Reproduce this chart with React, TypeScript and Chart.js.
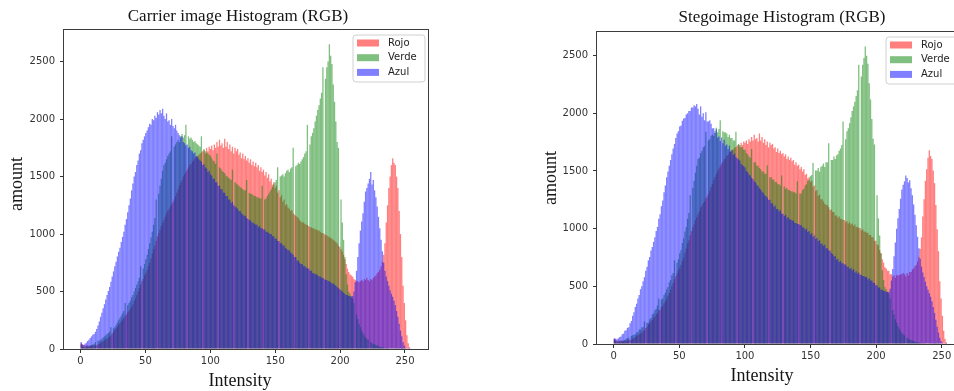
import React, { useEffect, useRef } from "react";
import { Chart, registerables } from "chart.js";

Chart.register(...registerables);

// ---------------- data ----------------
const seriesNames = ["Rojo", "Verde", "Azul"];
const xTickValues = [0, 50, 100, 150, 200, 250];
const yTickValues = [0, 500, 1000, 1500, 2000, 2500];

// Carrier image histogram (bins 0..255)
const carrierRed = [
  50, 40, 35, 30, 30, 30, 28, 28, 30, 30,
  30, 35, 30, 40, 45, 50, 60, 70, 75, 85,
  90, 100, 110, 120, 135, 150, 165, 180, 195, 210,
  225, 240, 255, 270, 290, 300, 320, 330, 350, 370,
  390, 420, 440, 470, 500, 530, 560, 590, 610, 640,
  660, 690, 720, 750, 790, 830, 870, 900, 940, 980,
  1010, 1040, 1070, 1100, 1120, 1150, 1180, 1200, 1220, 1240,
  1260, 1280, 1300, 1330, 1360, 1390, 1420, 1450, 1470, 1500,
  1520, 1540, 1560, 1580, 1600, 1610, 1630, 1640, 1660, 1670,
  1680, 1690, 1700, 1710, 1720, 1730, 1700, 1750, 1720, 1760,
  1740, 1770, 1730, 1780, 1750, 1800, 1760, 1820, 1770, 1790,
  1750, 1830, 1760, 1800, 1740, 1780, 1720, 1760, 1700, 1750,
  1720, 1740, 1690, 1710, 1660, 1700, 1650, 1680, 1640, 1660,
  1620, 1650, 1600, 1630, 1590, 1620, 1580, 1600, 1550, 1580,
  1540, 1560, 1510, 1540, 1490, 1520, 1460, 1480, 1430, 1450,
  1400, 1420, 1360, 1380, 1320, 1340, 1280, 1300, 1250, 1260,
  1230, 1220, 1200, 1210, 1180, 1170, 1160, 1150, 1140, 1120,
  1110, 1100, 1100, 1090, 1080, 1080, 1070, 1060, 1060, 1050,
  1050, 1040, 1040, 1030, 1030, 1020, 1010, 1010, 1000, 990,
  990, 980, 970, 970, 960, 950, 940, 930, 920, 900,
  890, 870, 850, 820, 780, 740, 700, 670, 650, 640,
  630, 610, 600, 590, 590, 580, 590, 600, 590, 610,
  600, 620, 600, 590, 610, 600, 620, 630, 640, 660,
  670, 690, 720, 760, 820, 920, 1100, 1250, 1400, 1500,
  1600, 1660, 1620, 1600, 1500, 1400, 1200, 1000, 800, 550,
  400, 250, 120, 50, 15, 0,
];

const carrierGreen = [
  40, 20, 15, 15, 20, 20, 25, 30, 35, 40,
  45, 60, 0, 75, 70, 80, 90, 100, 110, 120,
  130, 140, 150, 190, 0, 180, 190, 210, 230, 250,
  270, 290, 310, 330, 400, 0, 380, 400, 420, 450,
  470, 500, 530, 560, 590, 620, 720, 0, 700, 740,
  780, 820, 870, 920, 970, 1020, 1080, 1140, 1300, 0,
  1350, 1420, 1480, 1550, 1600, 1620, 1650, 1680, 1700, 1720,
  1850, 0, 1760, 1780, 1800, 1820, 1800, 1850, 1870, 1840,
  1860, 1950, 0, 1850, 1830, 1840, 1820, 1800, 1810, 1790,
  1780, 1770, 1760, 1850, 0, 1740, 1720, 1710, 1700, 1690,
  1680, 1660, 1640, 1630, 1610, 1700, 0, 1580, 1570, 1550,
  1540, 1530, 1510, 1500, 1490, 1480, 1470, 1560, 0, 1450,
  1440, 1430, 1420, 1410, 1400, 1390, 1380, 1380, 1470, 0,
  1360, 1350, 1350, 1340, 1330, 1330, 1320, 1320, 1310, 1310,
  1420, 0, 1300, 1310, 1330, 1350, 1370, 1390, 1410, 1430,
  1450, 1470, 1580, 0, 1500, 1510, 1520, 1500, 1530, 1550,
  1560, 1540, 1570, 1580, 1750, 0, 1590, 1600, 1620, 1610,
  1630, 1650, 1670, 1700, 1720, 1950, 0, 1780, 1850, 1880,
  1920, 1980, 2030, 2080, 2120, 2180, 2230, 2450, 0, 2350,
  2450, 2500, 2650, 2550, 2480, 2300, 2150, 1980, 1800, 1750,
  0, 1300, 1100, 950, 800, 650, 560, 500, 480, 460,
  440, 400, 0, 300, 260, 220, 190, 160, 140, 120,
  100, 90, 80, 0, 60, 50, 45, 40, 35, 30,
  25, 20, 18, 15, 12, 0, 10, 8, 6, 5,
  5, 4, 4, 3, 3, 2, 2, 0, 1, 1,
  0, 0, 0, 0, 0, 0,
];

const carrierBlue = [
  60, 40, 35, 45, 55, 70, 80, 95, 110, 125,
  130, 150, 175, 205, 240, 280, 315, 355, 390, 430,
  470, 505, 540, 585, 630, 675, 720, 760, 805, 845,
  880, 930, 975, 1020, 1080, 1130, 1190, 1250, 1310, 1380,
  1440, 1500, 1540, 1600, 1640, 1700, 1730, 1790, 1820, 1850,
  1880, 1900, 1930, 1960, 1950, 2000, 1990, 2030, 2010, 2060,
  2040, 2080, 2050, 2090, 2030, 2000, 2050, 1980, 1990, 1950,
  2000, 1940, 1920, 1950, 1900, 1880, 1860, 1840, 1850, 1800,
  1790, 1770, 1780, 1750, 1760, 1730, 1720, 1700, 1710, 1680,
  1670, 1650, 1640, 1630, 1600, 1610, 1580, 1570, 1540, 1550,
  1520, 1510, 1480, 1480, 1450, 1450, 1420, 1420, 1390, 1390,
  1360, 1360, 1330, 1330, 1300, 1300, 1270, 1280, 1250, 1240,
  1230, 1220, 1200, 1200, 1180, 1170, 1160, 1160, 1140, 1130,
  1120, 1120, 1100, 1100, 1090, 1080, 1080, 1060, 1070, 1050,
  1050, 1040, 1040, 1020, 1020, 1010, 1000, 1000, 980, 980,
  960, 960, 940, 940, 920, 920, 900, 900, 880, 870,
  860, 860, 840, 830, 820, 800, 800, 770, 770, 750,
  740, 740, 720, 720, 710, 700, 700, 680, 680, 660,
  660, 650, 650, 640, 630, 630, 620, 620, 610, 600,
  600, 590, 590, 580, 570, 570, 560, 550, 540, 530,
  520, 510, 500, 490, 480, 470, 470, 460, 460, 450,
  460, 500, 580, 680, 800, 920, 1030, 1110, 1180, 1280,
  1370, 1400, 1440, 1480, 1540, 1430, 1470, 1380, 1320, 1240,
  1150, 1050, 950, 850, 750, 680, 630, 590, 550, 510,
  480, 455, 420, 380, 330, 280, 220, 160, 110, 60,
  30, 10, 5, 2, 1, 0,
];

// Stego image histogram (bins 0..255)
const stegoRed = [
  45, 40, 30, 30, 28, 30, 30, 25, 30, 32,
  28, 35, 32, 38, 45, 52, 58, 70, 78, 82,
  92, 98, 112, 118, 138, 148, 168, 178, 198, 208,
  228, 238, 258, 268, 292, 298, 322, 328, 352, 368,
  392, 418, 442, 468, 502, 528, 562, 588, 612, 638,
  662, 688, 722, 748, 792, 828, 872, 898, 942, 978,
  1012, 1038, 1072, 1098, 1122, 1148, 1182, 1198, 1222, 1238,
  1262, 1278, 1302, 1328, 1362, 1388, 1422, 1448, 1472, 1498,
  1522, 1538, 1562, 1578, 1602, 1608, 1632, 1638, 1662, 1668,
  1682, 1688, 1702, 1708, 1722, 1728, 1710, 1745, 1725, 1755,
  1745, 1765, 1735, 1775, 1755, 1795, 1765, 1815, 1775, 1785,
  1755, 1825, 1765, 1795, 1745, 1775, 1725, 1755, 1705, 1745,
  1725, 1735, 1695, 1705, 1665, 1695, 1655, 1675, 1645, 1655,
  1625, 1645, 1605, 1625, 1595, 1615, 1585, 1595, 1555, 1575,
  1545, 1555, 1515, 1535, 1495, 1515, 1465, 1475, 1435, 1445,
  1405, 1415, 1365, 1375, 1325, 1335, 1285, 1295, 1255, 1255,
  1235, 1215, 1205, 1205, 1185, 1165, 1165, 1145, 1145, 1115,
  1115, 1095, 1105, 1085, 1085, 1075, 1075, 1055, 1065, 1045,
  1055, 1035, 1045, 1025, 1035, 1015, 1015, 1005, 1005, 985,
  995, 975, 975, 965, 965, 945, 945, 925, 925, 895,
  895, 865, 855, 815, 785, 735, 705, 665, 655, 635,
  635, 605, 605, 585, 595, 575, 595, 595, 595, 605,
  605, 615, 605, 585, 615, 595, 625, 625, 645, 655,
  675, 685, 715, 755, 825, 925, 1105, 1255, 1415, 1515,
  1615, 1680, 1630, 1605, 1505, 1395, 1205, 995, 805, 545,
  395, 245, 115, 45, 15, 0,
];

const stegoGreen = [
  35, 25, 15, 20, 20, 25, 25, 30, 35, 45,
  50, 55, 0, 70, 75, 80, 85, 100, 105, 125,
  125, 145, 145, 195, 0, 185, 185, 215, 225, 255,
  265, 295, 305, 335, 395, 0, 385, 395, 425, 445,
  475, 495, 535, 555, 595, 615, 725, 0, 705, 735,
  785, 815, 875, 915, 975, 1015, 1085, 1135, 1290, 0,
  1355, 1415, 1485, 1545, 1605, 1615, 1655, 1675, 1705, 1715,
  1840, 0, 1765, 1775, 1805, 1815, 1805, 1845, 1875, 1835,
  1865, 1940, 0, 1845, 1835, 1835, 1825, 1795, 1815, 1785,
  1785, 1765, 1765, 1840, 0, 1735, 1725, 1705, 1705, 1685,
  1685, 1655, 1645, 1625, 1615, 1690, 0, 1575, 1575, 1545,
  1545, 1525, 1515, 1495, 1495, 1475, 1475, 1550, 0, 1445,
  1445, 1425, 1425, 1405, 1405, 1385, 1385, 1375, 1460, 0,
  1365, 1345, 1355, 1335, 1335, 1325, 1325, 1315, 1315, 1305,
  1410, 0, 1305, 1305, 1335, 1345, 1375, 1385, 1415, 1425,
  1455, 1465, 1570, 0, 1505, 1505, 1525, 1495, 1535, 1545,
  1565, 1535, 1575, 1575, 1740, 0, 1595, 1595, 1625, 1605,
  1635, 1645, 1675, 1695, 1725, 1930, 0, 1775, 1845, 1870,
  1915, 1965, 2020, 2060, 2100, 2150, 2200, 2420, 0, 2320,
  2420, 2480, 2580, 2500, 2430, 2260, 2120, 1950, 1780, 1730,
  0, 1290, 1090, 940, 790, 640, 555, 495, 475, 455,
  435, 395, 0, 295, 255, 215, 185, 155, 135, 115,
  95, 85, 75, 0, 55, 45, 40, 35, 30, 25,
  22, 18, 15, 12, 10, 0, 8, 6, 5, 4,
  4, 3, 3, 2, 2, 2, 1, 0, 1, 0,
  0, 0, 0, 0, 0, 0,
];

const stegoBlue = [
  50, 45, 40, 50, 60, 65, 85, 90, 115, 120,
  140, 145, 180, 200, 245, 275, 320, 350, 395, 425,
  475, 500, 545, 580, 635, 670, 725, 755, 810, 840,
  885, 925, 980, 1015, 1085, 1125, 1195, 1245, 1315, 1375,
  1445, 1495, 1545, 1595, 1645, 1695, 1735, 1785, 1825, 1845,
  1885, 1895, 1935, 1955, 1960, 1990, 2000, 2020, 2020, 2050,
  2050, 2070, 2060, 2080, 2040, 1990, 2060, 1970, 2000, 1940,
  2010, 1930, 1930, 1940, 1910, 1870, 1870, 1830, 1860, 1790,
  1800, 1760, 1790, 1740, 1770, 1720, 1730, 1690, 1720, 1670,
  1680, 1640, 1650, 1620, 1610, 1600, 1590, 1560, 1550, 1540,
  1530, 1500, 1490, 1470, 1460, 1440, 1430, 1410, 1400, 1380,
  1370, 1350, 1340, 1320, 1310, 1290, 1280, 1270, 1250, 1250,
  1220, 1220, 1190, 1200, 1170, 1170, 1150, 1160, 1130, 1130,
  1110, 1120, 1090, 1100, 1080, 1080, 1070, 1070, 1050, 1050,
  1040, 1040, 1030, 1030, 1010, 1010, 990, 1000, 970, 980,
  950, 960, 930, 940, 910, 920, 890, 900, 870, 870,
  850, 860, 830, 830, 810, 810, 790, 780, 760, 760,
  730, 740, 710, 720, 700, 700, 690, 690, 670, 670,
  650, 660, 640, 650, 620, 630, 610, 620, 600, 600,
  590, 590, 580, 580, 560, 570, 550, 550, 530, 530,
  510, 510, 490, 490, 470, 470, 460, 460, 450, 450,
  450, 480, 550, 650, 760, 880, 1000, 1090, 1170, 1260,
  1340, 1380, 1410, 1460, 1440, 1400, 1420, 1350, 1290, 1210,
  1120, 1030, 930, 830, 740, 670, 620, 580, 540, 500,
  470, 440, 410, 370, 320, 270, 210, 150, 100, 55,
  25, 10, 5, 2, 1, 0,
];

// ---------------- styling ----------------
const fillColors = ["rgba(255,0,0,0.5)", "rgba(0,128,0,0.5)", "rgba(0,0,255,0.5)"];
const SERIF = '"Liberation Serif", "Times New Roman", serif';
const SANS = '"DejaVu Sans", sans-serif';

type Panel = {
  title: string;
  red: number[];
  green: number[];
  blue: number[];
  canvasLeft: number;
  canvasWidth: number;
  areaLeft: number;
  areaRight: number;
  areaTop: number;
  areaBottom: number;
  yMax: number;
  titleX: number;
  titleY: number;
  xLabelX: number;
  xLabelY: number;
  yLabelX: number;
  yLabelY: number;
  legendX: number;
  legendY: number;
};

const H = 391;

const panels: Panel[] = [
  {
    title: "Carrier image Histogram (RGB)",
    red: carrierRed,
    green: carrierGreen,
    blue: carrierBlue,
    canvasLeft: 0,
    canvasWidth: 477,
    areaLeft: 64,
    areaRight: 428,
    areaTop: 30,
    areaBottom: 349,
    yMax: 2775,
    titleX: 238,
    titleY: 21,
    xLabelX: 240,
    xLabelY: 386,
    yLabelX: 22,
    yLabelY: 184,
    legendX: 353,
    legendY: 35,
  },
  {
    title: "Stegoimage Histogram (RGB)",
    red: stegoRed,
    green: stegoGreen,
    blue: stegoBlue,
    canvasLeft: 477,
    canvasWidth: 500,
    areaLeft: 120,
    areaRight: 488,
    areaTop: 32,
    areaBottom: 344,
    yMax: 2705,
    titleX: 305,
    titleY: 22,
    xLabelX: 285,
    xLabelY: 381,
    yLabelX: 79,
    yLabelY: 178,
    legendX: 409,
    legendY: 37,
  },
];

const binCenter = (i: number) => ((i + 0.5) * 255) / 256;

function decorPlugin(p: Panel) {
  return {
    id: "decor",
    afterDraw(chart: any) {
      const ctx: CanvasRenderingContext2D = chart.ctx;
      const a = chart.chartArea;
      ctx.save();
      // axes frame
      ctx.strokeStyle = "#3c3c3c";
      ctx.lineWidth = 1;
      ctx.strokeRect(a.left - 0.5, a.top - 0.5, a.right - a.left + 1, a.bottom - a.top + 1);

      // title
      ctx.fillStyle = "#151515";
      ctx.textAlign = "center";
      ctx.textBaseline = "alphabetic";
      ctx.font = `17px ${SERIF}`;
      ctx.fillText(p.title, p.titleX, p.titleY);

      // x label
      ctx.font = `18px ${SERIF}`;
      ctx.fillText("Intensity", p.xLabelX, p.xLabelY);

      // y label
      ctx.save();
      ctx.translate(p.yLabelX, p.yLabelY);
      ctx.rotate(-Math.PI / 2);
      ctx.fillText("amount", 0, 0);
      ctx.restore();

      // legend
      const lx = p.legendX;
      const ly = p.legendY;
      const lw = 72;
      const lh = 47;
      ctx.beginPath();
      const r = 3;
      ctx.moveTo(lx + r, ly);
      ctx.lineTo(lx + lw - r, ly);
      ctx.quadraticCurveTo(lx + lw, ly, lx + lw, ly + r);
      ctx.lineTo(lx + lw, ly + lh - r);
      ctx.quadraticCurveTo(lx + lw, ly + lh, lx + lw - r, ly + lh);
      ctx.lineTo(lx + r, ly + lh);
      ctx.quadraticCurveTo(lx, ly + lh, lx, ly + lh - r);
      ctx.lineTo(lx, ly + r);
      ctx.quadraticCurveTo(lx, ly, lx + r, ly);
      ctx.closePath();
      ctx.fillStyle = "rgba(255,255,255,0.85)";
      ctx.fill();
      ctx.strokeStyle = "#d0d0d0";
      ctx.lineWidth = 1;
      ctx.stroke();

      ctx.font = `10px ${SANS}`;
      ctx.textAlign = "left";
      ctx.textBaseline = "middle";
      seriesNames.forEach((name, k) => {
        const cy = ly + 8 + k * 14.7;
        ctx.fillStyle = fillColors[k];
        ctx.fillRect(lx + 4, cy - 3.5, 22, 7);
        ctx.fillStyle = "#222";
        ctx.fillText(name, lx + 35, cy);
      });
      ctx.restore();
    },
  };
}

function HistPanel({ p }: { p: Panel }) {
  const ref = useRef<HTMLCanvasElement | null>(null);
  useEffect(() => {
    if (!ref.current) return;
    const series = [p.red, p.green, p.blue];
    const datasets = series.map((vals, k) => ({
      label: seriesNames[k],
      data: vals.map((v, i) => ({ x: binCenter(i), y: v })),
      backgroundColor: fillColors[k],
      borderWidth: 0,
      grouped: false,
      barPercentage: 1,
      categoryPercentage: 1,
      inflateAmount: 0,
      order: 3 - k,
    }));
    const chart = new Chart(ref.current, {
      type: "bar",
      data: { datasets } as any,
      options: {
        animation: false,
        responsive: false,
        maintainAspectRatio: false,
        events: [],
        layout: {
          padding: {
            left: 0,
            top: p.areaTop,
            right: p.canvasWidth - p.areaRight,
            bottom: 0,
          },
        },
        plugins: {
          legend: { display: false },
          title: { display: false },
          tooltip: { enabled: false },
        },
        scales: {
          x: {
            type: "linear",
            min: -12.75,
            max: 267.75,
            offset: false,
            afterBuildTicks: (s: any) => {
              s.ticks = xTickValues.map((v) => ({ value: v }));
            },
            afterFit: (s: any) => {
              s.height = H - p.areaBottom;
            },
            grid: {
              display: true,
              drawOnChartArea: false,
              drawTicks: true,
              tickLength: 4,
              color: "#333",
              offset: false,
            },
            border: { display: false },
            ticks: {
              font: { family: "DejaVu Sans", size: 10 },
              color: "#333",
              padding: 2,
              maxRotation: 0,
              autoSkip: false,
              callback: (v: any) => String(v),
            },
          },
          y: {
            type: "linear",
            min: 0,
            max: p.yMax,
            afterBuildTicks: (s: any) => {
              s.ticks = yTickValues.map((v) => ({ value: v }));
            },
            afterFit: (s: any) => {
              s.width = p.areaLeft;
            },
            grid: {
              display: true,
              drawOnChartArea: false,
              drawTicks: true,
              tickLength: 4,
              color: "#333",
            },
            border: { display: false },
            ticks: {
              font: { family: "DejaVu Sans", size: 10 },
              color: "#333",
              padding: 5,
              autoSkip: false,
              callback: (v: any) => String(v),
            },
          },
        },
      } as any,
      plugins: [decorPlugin(p)],
    });
    return () => chart.destroy();
  }, [p]);
  return (
    <canvas
      ref={ref}
      width={p.canvasWidth}
      height={H}
      style={{ position: "absolute", left: p.canvasLeft, top: 0, width: p.canvasWidth, height: H }}
    />
  );
}

export default function App() {
  return (
    <div
      style={{
        position: "fixed",
        left: 0,
        top: 0,
        width: 954,
        height: H,
        overflow: "hidden",
        background: "#ffffff",
      }}
    >
      {panels.map((p) => (
        <HistPanel key={p.title} p={p} />
      ))}
    </div>
  );
}
